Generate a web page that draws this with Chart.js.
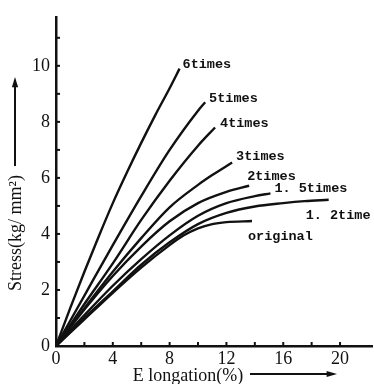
<!DOCTYPE html>
<html>
<head>
<meta charset="utf-8">
<script src="https://cdn.jsdelivr.net/npm/chart.js@4.4.1/dist/chart.umd.min.js"></script>
<style>
  html, body { margin: 0; padding: 0; background: #fff; }
  canvas { display: block; }
</style>
</head>
<body>
<canvas id="curvas" width="374" height="384"></canvas>
<script>
// stress-strain curves, one per draw ratio
const seriesNames = ['6times', '5times', '4times', '3times', '2times', '1. 5times', '1. 2time', 'original'];

const elong6 = [0, 1, 2, 3, 4, 5, 6, 7, 8, 8.7];
const stress6 = [0, 1.35, 2.65, 3.9, 5.1, 6.2, 7.25, 8.25, 9.2, 9.9];

const elong5 = [0, 2, 4, 6, 8, 10, 10.5];
const stress5 = [0, 1.8, 3.6, 5.35, 7.0, 8.4, 8.7];

const elong4 = [0, 2, 4, 6, 8, 10, 11.2];
const stress4 = [0, 1.5, 2.95, 4.5, 5.9, 7.15, 7.8];

const elong3 = [0, 2, 4, 6, 8, 10, 11, 12.4];
const stress3 = [0, 1.35, 2.65, 3.85, 4.95, 5.75, 6.1, 6.55];

const elong2 = [0, 2, 4, 6, 8, 10, 12, 13.6];
const stress2 = [0, 1.3, 2.5, 3.55, 4.45, 5.1, 5.5, 5.72];

const elong15 = [0, 2, 4, 6, 8, 10, 12, 14, 15.1];
const stress15 = [0, 1.1, 2.15, 3.1, 3.95, 4.65, 5.1, 5.35, 5.45];

const elong12 = [0, 2, 4, 6, 8, 10, 12, 14, 16, 17.5, 19.2];
const stress12 = [0, 1.0, 1.95, 2.9, 3.7, 4.35, 4.75, 4.98, 5.1, 5.17, 5.22];

const elongOrig = [0, 2, 4, 6, 8, 9, 10, 11, 12, 13.8];
const stressOrig = [0, 0.95, 1.9, 2.8, 3.6, 3.95, 4.2, 4.35, 4.42, 4.46];

const xTickLabels = [0, 4, 8, 12, 16, 20];
const yTickLabels = [0, 2, 4, 6, 8, 10];

const elongs = [elong6, elong5, elong4, elong3, elong2, elong15, elong12, elongOrig];
const stresses = [stress6, stress5, stress4, stress3, stress2, stress15, stress12, stressOrig];

// where each name sits, in pixels from the end of its curve
const labelOffsets = [[3, -4], [4, -4], [5, -4], [4, -6], [-2, -9], [4, -5], [-23, 16], [-4, 16]];

const serif = "'Liberation Serif', 'DejaVu Serif', serif";
const mono = "'Liberation Mono', 'DejaVu Sans Mono', monospace";

const datasets = seriesNames.map(function (name, i) {
  return {
    label: name,
    data: elongs[i].map((x, j) => ({ x: x, y: stresses[i][j] })),
    borderColor: '#111',
    borderWidth: 2.4,
    pointRadius: 0,
    fill: false,
    cubicInterpolationMode: 'monotone'
  };
});

// inward tick marks, curve names and the two axis titles with arrows
const decorations = {
  id: 'decorations',
  afterDraw(chart) {
    const ctx = chart.ctx;
    const xs = chart.scales.x;
    const ys = chart.scales.y;
    const x0 = xs.getPixelForValue(0);
    const y0 = ys.getPixelForValue(0);

    ctx.save();
    ctx.strokeStyle = '#111';
    ctx.lineWidth = 2;
    for (let v = 1; v <= 11; v++) {
      const py = ys.getPixelForValue(v);
      ctx.beginPath();
      ctx.moveTo(x0, py);
      ctx.lineTo(x0 + 4, py);
      ctx.stroke();
    }
    for (let v = 2; v <= 20; v += 2) {
      const px = xs.getPixelForValue(v);
      ctx.beginPath();
      ctx.moveTo(px, y0);
      ctx.lineTo(px, y0 - 4);
      ctx.stroke();
    }

    // curve names
    ctx.fillStyle = '#111';
    ctx.font = 'bold 13.5px ' + mono;
    ctx.textAlign = 'left';
    ctx.textBaseline = 'middle';
    chart.data.datasets.forEach(function (ds, i) {
      const last = ds.data[ds.data.length - 1];
      const px = xs.getPixelForValue(last.x) + labelOffsets[i][0];
      const py = ys.getPixelForValue(last.y) + labelOffsets[i][1];
      ctx.fillText(ds.label, px, py);
    });

    // x title
    ctx.font = '18px ' + serif;
    ctx.textAlign = 'center';
    ctx.fillText('E longation(%)', 188, 376);
    arrow(ctx, 250, 374, 334, 374);

    // y title
    ctx.save();
    ctx.translate(16, 233);
    ctx.rotate(-Math.PI / 2);
    ctx.fillText('Stress(kg/ mm²)', 0, 0);
    ctx.restore();
    arrow(ctx, 15, 166, 15, 80);
    ctx.restore();
  }
};

function arrow(ctx, xa, ya, xb, yb) {
  const ang = Math.atan2(yb - ya, xb - xa);
  ctx.beginPath();
  ctx.lineWidth = 2;
  ctx.moveTo(xa, ya);
  ctx.lineTo(xb, yb);
  ctx.stroke();
  ctx.beginPath();
  ctx.moveTo(xb + Math.cos(ang) * 3, yb + Math.sin(ang) * 3);
  ctx.lineTo(xb - Math.cos(ang - 0.4) * 8, yb - Math.sin(ang - 0.4) * 8);
  ctx.lineTo(xb - Math.cos(ang + 0.4) * 8, yb - Math.sin(ang + 0.4) * 8);
  ctx.closePath();
  ctx.fill();
}

new Chart(document.getElementById('curvas'), {
  type: 'line',
  data: { datasets: datasets },
  options: {
    responsive: false,
    animation: false,
    devicePixelRatio: 1,
    layout: { padding: { top: 13, right: 0, left: 0, bottom: 0 } },
    plugins: { legend: { display: false }, tooltip: { enabled: false } },
    scales: {
      x: {
        type: 'linear',
        min: 0,
        max: 22.25,
        grid: { display: false, drawTicks: false },
        border: { display: true, color: '#111', width: 2.5 },
        ticks: {
          stepSize: 2,
          autoSkip: false,
          maxRotation: 0,
          padding: 2,
          color: '#111',
          font: { family: serif, size: 18 },
          callback: v => xTickLabels.includes(v) ? String(v) : ''
        },
        afterFit: s => { s.height = 38; }
      },
      y: {
        type: 'linear',
        min: 0,
        max: 11.75,
        grid: { display: false, drawTicks: false },
        border: { display: true, color: '#111', width: 2.5 },
        ticks: {
          stepSize: 1,
          autoSkip: false,
          padding: 6,
          color: '#111',
          font: { family: serif, size: 18 },
          callback: v => yTickLabels.includes(v) ? String(v) : ''
        },
        afterFit: s => { s.width = 56; }
      }
    }
  },
  plugins: [decorations]
});
</script>
</body>
</html>
